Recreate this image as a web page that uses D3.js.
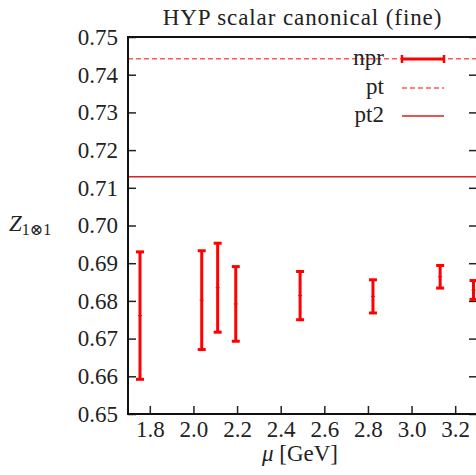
<!DOCTYPE html>
<html>
<head>
<meta charset="utf-8">
<script src="https://cdn.jsdelivr.net/npm/d3@7"></script>
<style>
  body { margin: 0; background: #fff; }
  svg { display: block; }
  .axis path { display: none; }
  .axis line { stroke: #222; stroke-width: 1.5; }
</style>
</head>
<body>
<svg id="chart"></svg>
<script>
// data
var mu = [1.755, 2.038, 2.111, 2.194, 2.489, 2.823, 3.131, 3.284];
var zval = [0.6761, 0.6802, 0.6835, 0.6792, 0.6814, 0.6812, 0.6864, 0.6829];
var zerr = [0.0169, 0.0131, 0.0118, 0.0099, 0.0064, 0.0044, 0.0030, 0.0025];
var ptValue = 0.7442;
var pt2Value = 0.7129;
var xTicks = [1.8, 2.0, 2.2, 2.4, 2.6, 2.8, 3.0, 3.2];
var yTicks = [0.65, 0.66, 0.67, 0.68, 0.69, 0.70, 0.71, 0.72, 0.73, 0.74, 0.75];
var legendNames = ["npr", "pt", "pt2"];

var serif = "'Liberation Serif', 'DejaVu Serif', serif";
var fs = "23px";

var viewWidth = 476;
var viewHeight = 475;
var margin = {top: 37, right: -1, bottom: 61, left: 128};
var width = viewWidth - margin.left - margin.right;
var height = viewHeight - margin.top - margin.bottom;

var svg = d3.select("#chart")
    .attr("width", viewWidth)
    .attr("height", viewHeight);

var g = svg.append("g")
    .attr("transform", "translate(" + margin.left + "," + margin.top + ")");

var x = d3.scaleLinear().domain([1.7, 3.3]).range([0, width]);
var y = d3.scaleLinear().domain([0.65, 0.75]).range([height, 0]);

svg.append("defs").append("clipPath").attr("id", "clip")
  .append("rect").attr("width", width).attr("height", height);

// axes, ticks pointing inwards
var xAxisG = g.append("g")
    .attr("class", "x axis")
    .attr("transform", "translate(0," + height + ")")
    .call(d3.axisBottom(x).tickValues(xTicks).tickSize(-8).tickPadding(7).tickFormat(d3.format(".1f")));

var yAxisG = g.append("g")
    .attr("class", "y axis")
    .call(d3.axisLeft(y).tickValues(yTicks).tickSize(-8).tickPadding(10).tickFormat(d3.format(".2f")));

[xAxisG, yAxisG].forEach(function(a) {
  a.attr("font-family", serif).attr("font-size", 23);
  a.selectAll("text")
    .style("font-family", serif)
    .style("font-size", fs)
    .style("fill", "#222");
});

g.append("g")
    .attr("class", "y axis")
    .attr("transform", "translate(" + width + ",0)")
    .call(d3.axisRight(y).tickValues(yTicks).tickSize(-8).tickFormat(""));

var plot = g.append("g").attr("clip-path", "url(#clip)");

// perturbative lines
plot.append("line")
    .attr("x1", 0).attr("x2", width)
    .attr("y1", y(ptValue)).attr("y2", y(ptValue))
    .style("stroke", "#ff5a5a")
    .style("stroke-width", 1.5)
    .style("stroke-dasharray", "5,3");

plot.append("line")
    .attr("x1", 0).attr("x2", width)
    .attr("y1", y(pt2Value)).attr("y2", y(pt2Value))
    .style("stroke", "#dd1f1f")
    .style("stroke-width", 1.5);

// error bars
var bars = plot.selectAll(".bar")
    .data(mu.map(function(m, i) { return {x: m, y: zval[i], e: zerr[i]}; }))
  .enter().append("g")
    .attr("class", "bar")
    .attr("transform", function(d) { return "translate(" + x(d.x) + ",0)"; });

bars.append("line")
    .attr("y1", function(d) { return y(d.y - d.e); })
    .attr("y2", function(d) { return y(d.y + d.e); })
    .style("stroke", "#ff0000").style("stroke-width", 3);

bars.selectAll(".cap")
    .data(function(d) { return [d.y - d.e, d.y + d.e]; })
  .enter().append("line")
    .attr("x1", -4).attr("x2", 4)
    .attr("y1", function(v) { return y(v); })
    .attr("y2", function(v) { return y(v); })
    .style("stroke", "#ff0000").style("stroke-width", 3);

bars.append("line")
    .attr("x1", -2).attr("x2", 2)
    .attr("y1", function(d) { return y(d.y); })
    .attr("y2", function(d) { return y(d.y); })
    .style("stroke", "#ff0000").style("stroke-width", 1);

// frame (no ticks on top)
g.append("rect")
    .attr("width", width).attr("height", height)
    .style("fill", "none").style("stroke", "#111").style("stroke-width", 2);

// legend
var legend = svg.append("g");
var legendY = [65, 94, 122];
legendNames.forEach(function(name, i) {
  legend.append("text")
    .attr("x", 384).attr("y", legendY[i])
    .attr("text-anchor", "end")
    .style("font-family", serif)
    .style("font-size", fs).style("fill", "#222")
    .text(name);
});
var ly = legendY.map(function(v) { return v - 6; });
legend.append("line").attr("x1", 402).attr("x2", 444).attr("y1", ly[0]).attr("y2", ly[0])
    .style("stroke", "#ff0000").style("stroke-width", 3);
[402, 444].forEach(function(px) {
  legend.append("line").attr("x1", px).attr("x2", px).attr("y1", ly[0] - 4).attr("y2", ly[0] + 4)
    .style("stroke", "#ff0000").style("stroke-width", 2.5);
});
legend.append("line").attr("x1", 402).attr("x2", 444).attr("y1", ly[1]).attr("y2", ly[1])
    .style("stroke", "#ff5a5a").style("stroke-width", 1.5).style("stroke-dasharray", "5,3");
legend.append("line").attr("x1", 402).attr("x2", 444).attr("y1", ly[2]).attr("y2", ly[2])
    .style("stroke", "#dd1f1f").style("stroke-width", 1.5);

// title and axis labels
svg.append("text")
    .attr("x", margin.left + width / 2).attr("y", 25)
    .attr("text-anchor", "middle")
    .style("font-family", serif)
    .style("font-size", fs).style("letter-spacing", "0.9px").style("fill", "#222")
    .text("HYP scalar canonical (fine)");

var xl = svg.append("text")
    .attr("x", 300).attr("y", 461)
    .attr("text-anchor", "middle")
    .style("font-family", serif)
    .style("font-size", fs).style("fill", "#222");
xl.append("tspan").style("font-style", "italic").text("μ");
xl.append("tspan").text(" [GeV]");

var yl = svg.append("text")
    .attr("x", 9).attr("y", 231)
    .style("font-family", serif)
    .style("font-size", fs).style("fill", "#222");
yl.append("tspan").style("font-style", "italic").text("Z");
yl.append("tspan").attr("dy", 4).style("font-size", "16px").text("1⊗1");
</script>
</body>
</html>
